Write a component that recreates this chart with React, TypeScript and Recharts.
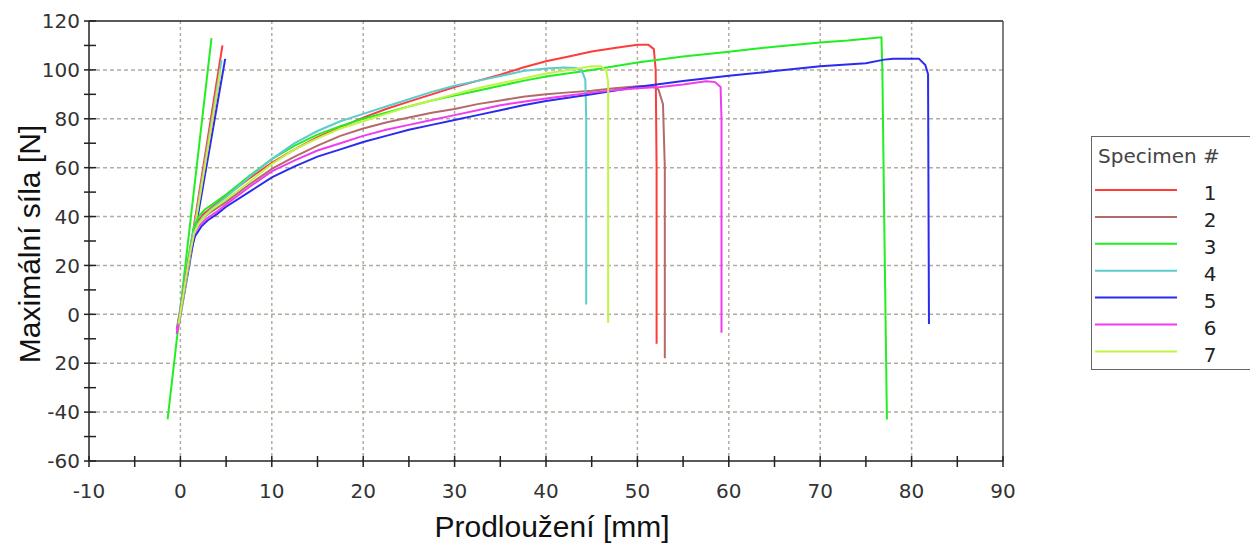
import React from "react";
import { LineChart, Line, XAxis, YAxis, CartesianGrid, ReferenceLine } from "recharts";

// ---- data (elongation [mm], force [N]) ----
const specimenNames = ["1", "2", "3", "4", "5", "6", "7"];
const specimenColors = ["#ff3b3b", "#b56a6a", "#22ee22", "#5ccccc", "#2b2bee", "#f03cf0", "#bff545"];

const curve1: number[][] = [[-0.3,-5],[0.3,8],[0.9,22],[1.4,33],[1.9,38],[2.5,41],[3.5,44],[5,48.5],[7.5,55.5],[10,62],[12.5,67.5],[15,72.5],[17.5,76.5],[20,80.5],[22.5,84],[25,87],[27.5,90],[30,93],[32.5,95.5],[35,98],[37.5,101],[40,103.5],[42.5,105.5],[45,107.5],[47.5,109],[50,110.3],[51.2,110.3],[51.8,108.5],[52,100],[52.1,60],[52.1,-12]];
const curve2: number[][] = [[-0.4,-6],[0.3,9],[0.9,23],[1.5,34],[2.1,38],[3,41],[5,46],[7.5,53],[10,59.5],[12.5,64.5],[15,69],[17.5,73],[20,76],[22.5,78.5],[25,80.5],[27.5,82.5],[30,84],[32.5,86],[35,87.5],[37.5,89],[40,90],[42.5,90.8],[45,91.5],[47.5,92.5],[50,93.3],[51.5,93.5],[52.3,92],[52.8,86],[53,60],[53,-18]];
const curve3: number[][] = [[-0.2,-3],[0.4,12],[1,26],[1.5,36],[2,40],[2.7,43],[3.5,45],[5,49],[7.5,56.5],[10,63.5],[12.5,69],[15,73.5],[17.5,77],[20,80],[22.5,82.5],[25,85],[27.5,87.5],[30,89.5],[32.5,91.5],[35,93.5],[37.5,95.5],[40,97.3],[45,100],[50,103],[55,105.5],[60,107.4],[65,109.5],[70,111.2],[73,112],[76.7,113.3],[76.8,100],[77,40],[77.3,-43]];
const curve4: number[][] = [[-0.3,-5],[0.3,9],[0.9,23],[1.4,33],[1.9,37],[2.5,40],[3.5,43.5],[5,48],[7.5,56],[10,63.5],[12.5,70],[15,75],[17.5,79],[20,82],[22.5,85],[25,88],[27.5,91],[30,93.5],[32.5,95.5],[35,97.5],[37.5,99.5],[40,100.6],[42,101],[43.3,100.8],[44,99],[44.3,96],[44.4,80],[44.4,4]];
const curve5: number[][] = [[-0.2,-4],[0.4,10],[1,24],[1.6,32],[2.3,36],[3,38.5],[4,41],[5,44],[7.5,50],[10,56],[12.5,60.5],[15,64.5],[17.5,67.5],[20,70.5],[22.5,73],[25,75.5],[27.5,77.5],[30,79.5],[32.5,81.5],[35,83.5],[37.5,85.5],[40,87.3],[45,90],[50,93],[55,95.5],[60,97.6],[65,99.5],[70,101.5],[75,102.7],[77,104.2],[78,104.6],[80.8,104.6],[81.5,102],[81.8,98.3],[81.9,-4]];
const curve6: number[][] = [[-0.4,-8],[0.2,6],[0.8,20],[1.4,32],[2,36],[2.8,39],[4,42],[5,45],[7.5,52],[10,58.5],[12.5,63],[15,67],[17.5,70],[20,73],[22.5,75.5],[25,77.5],[27.5,79.5],[30,81.5],[32.5,83.5],[35,85.5],[37.5,87],[40,88.3],[42.5,89.5],[45,90.7],[47.5,91.7],[50,92.5],[52.5,93],[55,94],[57.5,95.3],[58.5,95],[59.1,93],[59.2,80],[59.2,-7.5]];
const curve7: number[][] = [[-0.2,-4],[0.4,10],[1,24],[1.5,33],[2,37],[2.6,40],[3.5,43],[5,47],[7.5,54],[10,61.5],[12.5,67.5],[15,72],[17.5,76],[20,79],[22.5,82],[25,85],[27.5,87.5],[30,90],[32.5,92.5],[35,94.5],[37.5,96.5],[40,98.5],[42.5,100],[45,101.5],[46,101.5],[46.6,99.5],[46.8,95],[46.8,-3.5]];

// initial slope (modulus) lines
const slope1: number[][] = [[-0.3,-6],[4.6,110]];
const slope2: number[][] = [[-0.3,-6],[4.3,98]];
const slope3: number[][] = [[-1.4,-43],[3.4,113]];
const slope4: number[][] = [[-0.3,-6],[4.5,104]];
const slope5: number[][] = [[-0.2,-5],[4.9,104.5]];
const slope6: number[][] = [[-0.4,-8],[4.2,95]];
const slope7: number[][] = [[-0.2,-5],[4.4,100]];

const curves = [curve1, curve2, curve3, curve4, curve5, curve6, curve7];
const slopes = [slope1, slope2, slope3, slope4, slope5, slope6, slope7];

const xTickValues = [-10,-5,0,5,10,15,20,25,30,35,40,45,50,55,60,65,70,75,80,85,90];
const xMajorValues = [-10,0,10,20,30,40,50,60,70,80,90];
const xTickLabels = ["-10","0","10","20","30","40","50","60","70","80","90"];
const yTickValues = [-60,-50,-40,-30,-20,-10,0,10,20,30,40,50,60,70,80,90,100,110,120];
const yMajorValues = [-60,-40,-20,0,20,40,60,80,100,120];
const yTickLabels = ["-60","-40","20","0","20","40","60","80","100","120"];

const xTitle = "Prodloužení [mm]";
const yTitle = "Maximální síla [N]";
const legendTitle = "Specimen #";

const toPoints = (arr: number[][]) => arr.map(([x, y]) => ({ x, y }));

const tickFont = "'DejaVu Sans', Verdana, sans-serif";

const XTick = (props: any) => {
  const { x, y, payload } = props;
  const i = xMajorValues.indexOf(payload.value);
  return (
    <g>
      <line x1={x} x2={x} y1={y - 5} y2={y + 6} stroke="#222" strokeWidth={1.5} />
      {i >= 0 && (
        <text x={x} y={y + 30} dy="0.36em" textAnchor="middle" fontSize={20} fill="#333" fontFamily={tickFont}>
          {xTickLabels[i]}
        </text>
      )}
    </g>
  );
};

const YTick = (props: any) => {
  const { x, y, payload } = props;
  const i = yMajorValues.indexOf(payload.value);
  return (
    <g>
      <line x1={x - 5} x2={x + 7} y1={y} y2={y} stroke="#222" strokeWidth={1.5} />
      {i >= 0 && (
        <text x={x - 9} y={y} dy="0.36em" textAnchor="end" fontSize={20} fill="#333" fontFamily={tickFont}>
          {yTickLabels[i]}
        </text>
      )}
    </g>
  );
};

export default function App() {
  const W = 1242;
  const H = 538;
  return (
    <div style={{ position: "relative", width: W, height: H, background: "#fff" }}>
      <LineChart width={W} height={H} margin={{ top: 13, right: 247, bottom: 45, left: 0 }}>
        <CartesianGrid
          vertical={false}
          horizontalValues={[-40, -20, 0, 20, 40, 60, 80, 100]}
          stroke="#b3ad9f"
          strokeWidth={1.5}
          strokeDasharray="4 3"
        />
        <CartesianGrid
          horizontal={false}
          verticalValues={[0, 10, 20, 30, 40, 50, 60, 70, 80]}
          stroke="#b3ad9f"
          strokeWidth={1.5}
          strokeDasharray="3 3"
        />
        <XAxis
          type="number"
          dataKey="x"
          domain={[-10, 90]}
          ticks={xTickValues}
          interval={0}
          allowDataOverflow
          height={40}
          tickSize={0}
          tickMargin={0}
          tickLine={false}
          axisLine={{ stroke: "#222", strokeWidth: 1.5 }}
          tick={<XTick />}
        />
        <YAxis
          type="number"
          dataKey="y"
          domain={[-60, 120]}
          ticks={yTickValues}
          interval={0}
          allowDataOverflow
          width={81}
          tickSize={0}
          tickMargin={0}
          tickLine={false}
          axisLine={{ stroke: "#222", strokeWidth: 1.5 }}
          tick={<YTick />}
        />
        <ReferenceLine y={120} stroke="#222" strokeWidth={1.5} />
        <ReferenceLine x={90} stroke="#555" strokeWidth={1.5} />
        {slopes.map((s, i) => (
          <Line
            key={"s" + i}
            data={toPoints(s)}
            dataKey="y"
            type="linear"
            stroke={specimenColors[i]}
            strokeWidth={2}
            dot={false}
            legendType="none"
            isAnimationActive={false}
          />
        ))}
        {curves.map((c, i) => (
          <Line
            key={"c" + i}
            data={toPoints(c)}
            dataKey="y"
            name={specimenNames[i]}
            type="linear"
            stroke={specimenColors[i]}
            strokeWidth={2}
            dot={false}
            isAnimationActive={false}
          />
        ))}
      </LineChart>
      <div
        style={{
          position: "absolute",
          left: 544,
          top: 519,
          transform: "translate(-50%, -50%)",
          whiteSpace: "nowrap",
          fontFamily: "'Liberation Sans', Arial, sans-serif",
          fontSize: 30,
          lineHeight: 1,
          color: "#111",
        }}
      >
        {xTitle}
      </div>
      <div
        style={{
          position: "absolute",
          left: 22,
          top: 236,
          transform: "translate(-50%, -50%) rotate(-90deg)",
          whiteSpace: "nowrap",
          fontFamily: "'Liberation Sans', Arial, sans-serif",
          fontSize: 30,
          lineHeight: 1,
          color: "#111",
        }}
      >
        {yTitle}
      </div>
      <div
        style={{
          position: "absolute",
          left: 1083,
          top: 128,
          width: 160,
          height: 234,
          border: "1.5px solid #666",
          boxSizing: "border-box",
          background: "#fff",
        }}
      >
        <svg width={160} height={234} style={{ position: "absolute", left: -1.5, top: -1.5, overflow: "visible" }}>
          <text x={7} y={20} dy="0.36em" fontSize={20} fill="#444" fontFamily={tickFont}>
            {legendTitle}
          </text>
          {specimenNames.map((n, i) => {
            const yy = 54 + i * 26.9;
            return (
              <g key={n}>
                <line x1={4} x2={86} y1={yy} y2={yy} stroke={specimenColors[i]} strokeWidth={2} />
                <text x={119} y={yy + 3} dy="0.36em" textAnchor="middle" fontSize={20} fill="#222" fontFamily={tickFont}>
                  {n}
                </text>
              </g>
            );
          })}
        </svg>
      </div>
    </div>
  );
}
